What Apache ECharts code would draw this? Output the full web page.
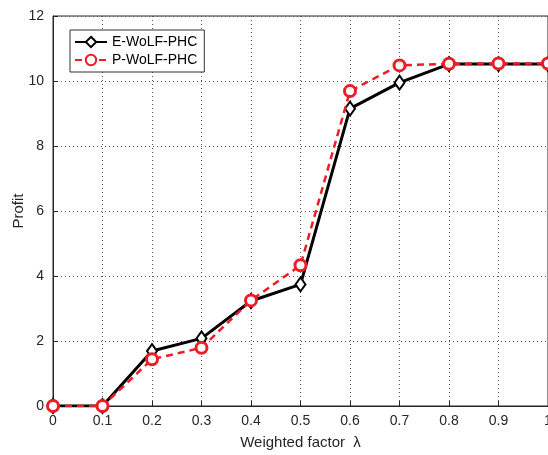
<!DOCTYPE html>
<html>
<head>
<meta charset="utf-8">
<script src="https://cdn.jsdelivr.net/npm/echarts@6/dist/echarts.min.js"></script>
<style>
  html, body { margin: 0; padding: 0; background: #fff; }
  #chart { width: 548px; height: 455px; }
</style>
</head>
<body>
<div id="chart"></div>
<script>
// weighted factor lambda
const lambdas = [0, 0.1, 0.2, 0.3, 0.4, 0.5, 0.6, 0.7, 0.8, 0.9, 1.0];
const eWolf = [0, 0, 1.69, 2.08, 3.23, 3.74, 9.15, 9.95, 10.52, 10.52, 10.52];
const pWolf = [0, 0, 1.44, 1.79, 3.25, 4.33, 9.69, 10.48, 10.53, 10.54, 10.54];
const yTicks = [0, 2, 4, 6, 8, 10, 12];

const axisColor = '#262626';
const gridLine = { show: true, lineStyle: { color: '#555', type: [1, 3], width: 1 } };

function pairs(ys) {
    return lambdas.map((x, i) => [x, ys[i]]);
}

const chart = echarts.init(document.getElementById('chart'));
chart.setOption({
    animation: false,
    grid: {
        left: 53, right: 0, top: 16, bottom: 49,
        outerBoundsMode: 'none',
        show: true, borderColor: axisColor, borderWidth: 1
    },
    legend: {
        orient: 'vertical',
        left: 70, top: 30,
        padding: [5, 7, 5, 4],
        itemGap: 4,
        itemWidth: 32,
        itemHeight: 13,
        backgroundColor: '#fff',
        borderColor: '#333',
        borderWidth: 1,
        textStyle: { fontFamily: 'Liberation Sans', fontSize: 14, color: '#000' },
        data: ['E-WoLF-PHC', 'P-WoLF-PHC']
    },
    xAxis: {
        type: 'value', min: 0, max: 1, interval: 0.1,
        name: 'Weighted factor  λ', nameLocation: 'middle', nameGap: 29,
        nameTextStyle: { fontFamily: 'Liberation Sans', fontSize: 15, color: axisColor },
        axisLine: { lineStyle: { color: axisColor } },
        axisTick: { inside: true, length: 5, lineStyle: { color: axisColor } },
        axisLabel: {
            fontFamily: 'Liberation Sans', fontSize: 14, color: axisColor, margin: 8,
            formatter: v => (Math.abs(v - 1) < 1e-9 ? '1' : String(Math.round(v * 10) / 10))
        },
        splitLine: gridLine
    },
    yAxis: {
        type: 'value', min: 0, max: 12, interval: 2,
        name: 'Profit', nameLocation: 'middle', nameGap: 27, nameMoveOverlap: false,
        nameTextStyle: { fontFamily: 'Liberation Sans', fontSize: 15, color: axisColor },
        axisLine: { show: true, lineStyle: { color: axisColor } },
        axisTick: { show: true, inside: true, length: 5, lineStyle: { color: axisColor } },
        axisLabel: {
            fontFamily: 'Liberation Sans', fontSize: 14, color: axisColor, margin: 9,
            customValues: yTicks
        },
        splitLine: gridLine
    },
    series: [
        {
            name: 'E-WoLF-PHC',
            type: 'line',
            data: pairs(eWolf),
            symbol: 'diamond',
            symbolSize: [10, 14],
            itemStyle: { color: '#fff', borderColor: '#000', borderWidth: 2 },
            lineStyle: { color: '#000', width: 3 },
            z: 3
        },
        {
            name: 'P-WoLF-PHC',
            type: 'line',
            data: pairs(pWolf),
            symbol: 'circle',
            symbolSize: 11,
            itemStyle: { color: '#fff', borderColor: '#ee1c25', borderWidth: 3 },
            lineStyle: { color: '#ee1c25', width: 2.5, type: [7, 5] },
            z: 4
        }
    ]
});
</script>
</body>
</html>
